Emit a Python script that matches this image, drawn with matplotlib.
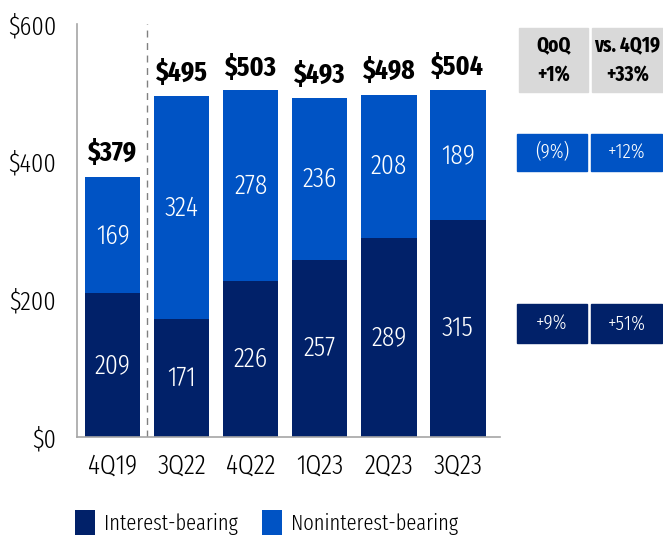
import numpy as np
import matplotlib.pyplot as plt
from matplotlib.patches import Rectangle

plt.rcParams['font.family'] = ['Fira Sans Extra Condensed', 'DejaVu Sans']

# data
quarters = ['4Q19', '3Q22', '4Q22', '1Q23', '2Q23', '3Q23']
interest = [209, 171, 226, 257, 289, 315]
noninterest = [169, 324, 278, 236, 208, 189]
totals = [379, 495, 503, 493, 498, 504]
yticks = [0, 200, 400, 600]

qoq_hdr = ['QoQ', '+1%']
vs_hdr = ['vs. 4Q19', '+33%']
nonint_chg = ['(9%)', '+12%']
int_chg = ['+9%', '+51%']

dark = '#012169'
light = '#0053c4'
grey = '#d9d9d9'

W, H = 663, 541
fig = plt.figure(figsize=(W / 100, H / 100), dpi=100)
ax = fig.add_axes([77 / W, 1 - 437 / H, (500 - 77) / W, (437 - 24) / H])

x = np.arange(len(quarters))
ax.bar(x, interest, width=0.8, color=dark, label='Interest-bearing')
ax.bar(x, noninterest, width=0.8, bottom=interest, color=light, label='Noninterest-bearing')

for i in range(len(x)):
    ax.text(x[i], interest[i] / 2, str(interest[i]), ha='center', va='center',
            color='white', fontsize=20, fontweight=300)
    ax.text(x[i], interest[i] + noninterest[i] / 2, str(noninterest[i]), ha='center',
            va='center', color='white', fontsize=20, fontweight=300)
    ax.text(x[i], totals[i] + 22, '$' + str(totals[i]), ha='center', va='baseline',
            fontsize=20, fontweight='bold', color='black')

ax.axvline(0.5, color='#808080', ls=(0, (5, 4)), lw=1)

ax.set_xlim(-0.52, 5.61)
ax.set_ylim(0, 600)
ax.set_xticks(x)
ax.set_xticklabels(quarters, fontsize=20, fontweight=300)
ax.set_yticks(yticks)
ax.set_yticklabels(['$' + str(v) for v in yticks], fontsize=19, fontweight=300)
ax.tick_params(length=0)
ax.tick_params(axis='x', pad=11)
ax.tick_params(axis='y', pad=15)
for s in ['top', 'right']:
    ax.spines[s].set_visible(False)
for s in ['left', 'bottom']:
    ax.spines[s].set_color('#a6a6a6')
    ax.spines[s].set_linewidth(1.2)


# right side boxes, in pixel coords
def box(x0, x1, y0, y1, color, lines, tcolor, bold=False):
    fig.patches.append(Rectangle((x0 / W, 1 - y1 / H), (x1 - x0) / W, (y1 - y0) / H,
                                 transform=fig.transFigure, color=color))
    fig.text((x0 + x1) / 2 / W, 1 - (y0 + y1) / 2 / H, '\n'.join(lines), ha='center',
             va='center', color=tcolor, fontsize=15,
             fontweight='bold' if bold else 300, linespacing=1.5)


box(519, 588, 28, 92, grey, qoq_hdr, 'black', bold=True)
box(592, 663, 28, 92, grey, vs_hdr, 'black', bold=True)
box(517, 587, 134, 171, light, [nonint_chg[0]], 'white')
box(591, 662, 134, 171, light, [nonint_chg[1]], 'white')
box(517, 587, 304, 343, dark, [int_chg[0]], 'white')
box(591, 662, 304, 343, dark, [int_chg[1]], 'white')

leg = fig.legend(loc='lower left', bbox_to_anchor=(55 / W, -0.026), ncol=2, frameon=False,
                 fontsize=16, handlelength=0.9, handleheight=1.35, columnspacing=1.1,
                 handletextpad=0.4)
for t in leg.get_texts():
    t.set_fontweight(300)

fig.savefig('out.png', dpi=100)
